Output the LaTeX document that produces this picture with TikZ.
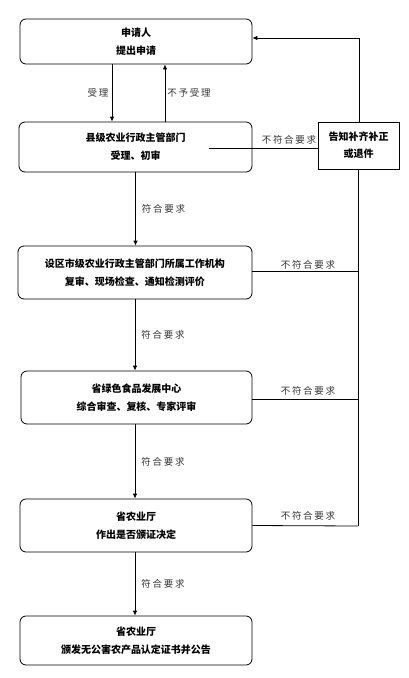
\documentclass[tikz,border=0pt]{standalone}
\usepackage{fontspec}
\setmainfont{Noto Sans CJK SC}
\usetikzlibrary{arrows.meta}
\begin{document}
\begin{tikzpicture}[x=1pt,y=-1pt,
  box/.style={draw, rounded corners=6pt, line width=0.8pt, font=\fontsize{10}{18}\selectfont\bfseries, align=center, inner sep=0pt},
  sbox/.style={draw, line width=0.8pt, font=\fontsize{10}{17}\selectfont\bfseries, align=center, inner sep=0pt},
  lbl/.style={font=\fontsize{9.5}{11}\selectfont\addfontfeature{LetterSpace=18}, text=black!80, inner sep=0pt},
  arr/.style={line width=0.8pt, -{Latex[length=5pt,width=4.5pt]}},
  ln/.style={line width=0.8pt}]
\useasboundingbox (0,0) rectangle (408,678);
\node[box, minimum width=232pt, minimum height=45pt] (b1) at (136,41.5) {申请人\\提出申请};
\node[box, minimum width=233pt, minimum height=50pt] (b2) at (135.5,147) {县级农业行政主管部门\\受理、初审};
\node[box, minimum width=234pt, minimum height=53pt] (b3) at (135,272.5) {设区市级农业行政主管部门所属工作机构\\复审、现场检查、通知检测评价};
\node[box, minimum width=231pt, minimum height=53pt] (b4) at (136.5,397.5) {省绿色食品发展中心\\综合审查、复核、专家评审};
\node[box, minimum width=232pt, minimum height=53pt] (b5) at (136,525.5) {省农业厅\\作出是否颁证决定};
\node[box, minimum width=232pt, minimum height=49pt] (b6) at (136,640.5) {省农业厅\\颁发无公害农产品认定证书并公告};
\node[sbox, minimum width=81pt, minimum height=47pt] (sd) at (358.5,145.5) {告知补齐补正\\或退件};
% top arrows
\draw[arr] ([xshift=-24pt]b1.south) -- ([xshift=-24pt]b1.south |- b2.north) node[lbl, midway, xshift=-14pt] {受理};
\draw[arr] ([xshift=29pt]b1.south |- b2.north) -- ([xshift=29pt]b1.south) node[lbl, midway, xshift=24pt] {不予受理};
% down arrows
\draw[arr] (b2.south) -- (b2.south |- b3.north) node[lbl, midway, xshift=28pt] {符合要求};
\draw[arr] (b3.south) -- (b3.south |- b4.north) node[lbl, midway, xshift=28pt] {符合要求};
\draw[arr] (b4.south -| b3.south) -- (b3.south |- b5.north) node[lbl, midway, xshift=28pt] {符合要求};
\draw[arr] (b5.south -| b3.south) -- (b3.south |- b6.north) node[lbl, midway, xshift=28pt] {符合要求};
% return paths
\coordinate (c2) at (209,148);
\draw[ln] (c2) -- (c2 -| sd.west);
\node[lbl] (l2) at (289,140) {不符合要求};
\coordinate (tp) at (359,38);
\draw[arr] (sd.north -| tp) -- (tp) -- (tp -| b1.east);
\coordinate (bt) at (358,526);
\draw[ln] (sd.south -| bt) -- (bt);
\draw[ln] (b3.east |- 0,271) -- (359,271);
\node[lbl] (l3) at (308,265) {不符合要求};
\draw[ln] (b4.east |- 0,399) -- (358,399);
\node[lbl] (l4) at (308,391) {不符合要求};
\draw[ln] (b5.east) -- (bt);
\node[lbl] (l5) at (308,516) {不符合要求};
\end{tikzpicture}
\end{document}
